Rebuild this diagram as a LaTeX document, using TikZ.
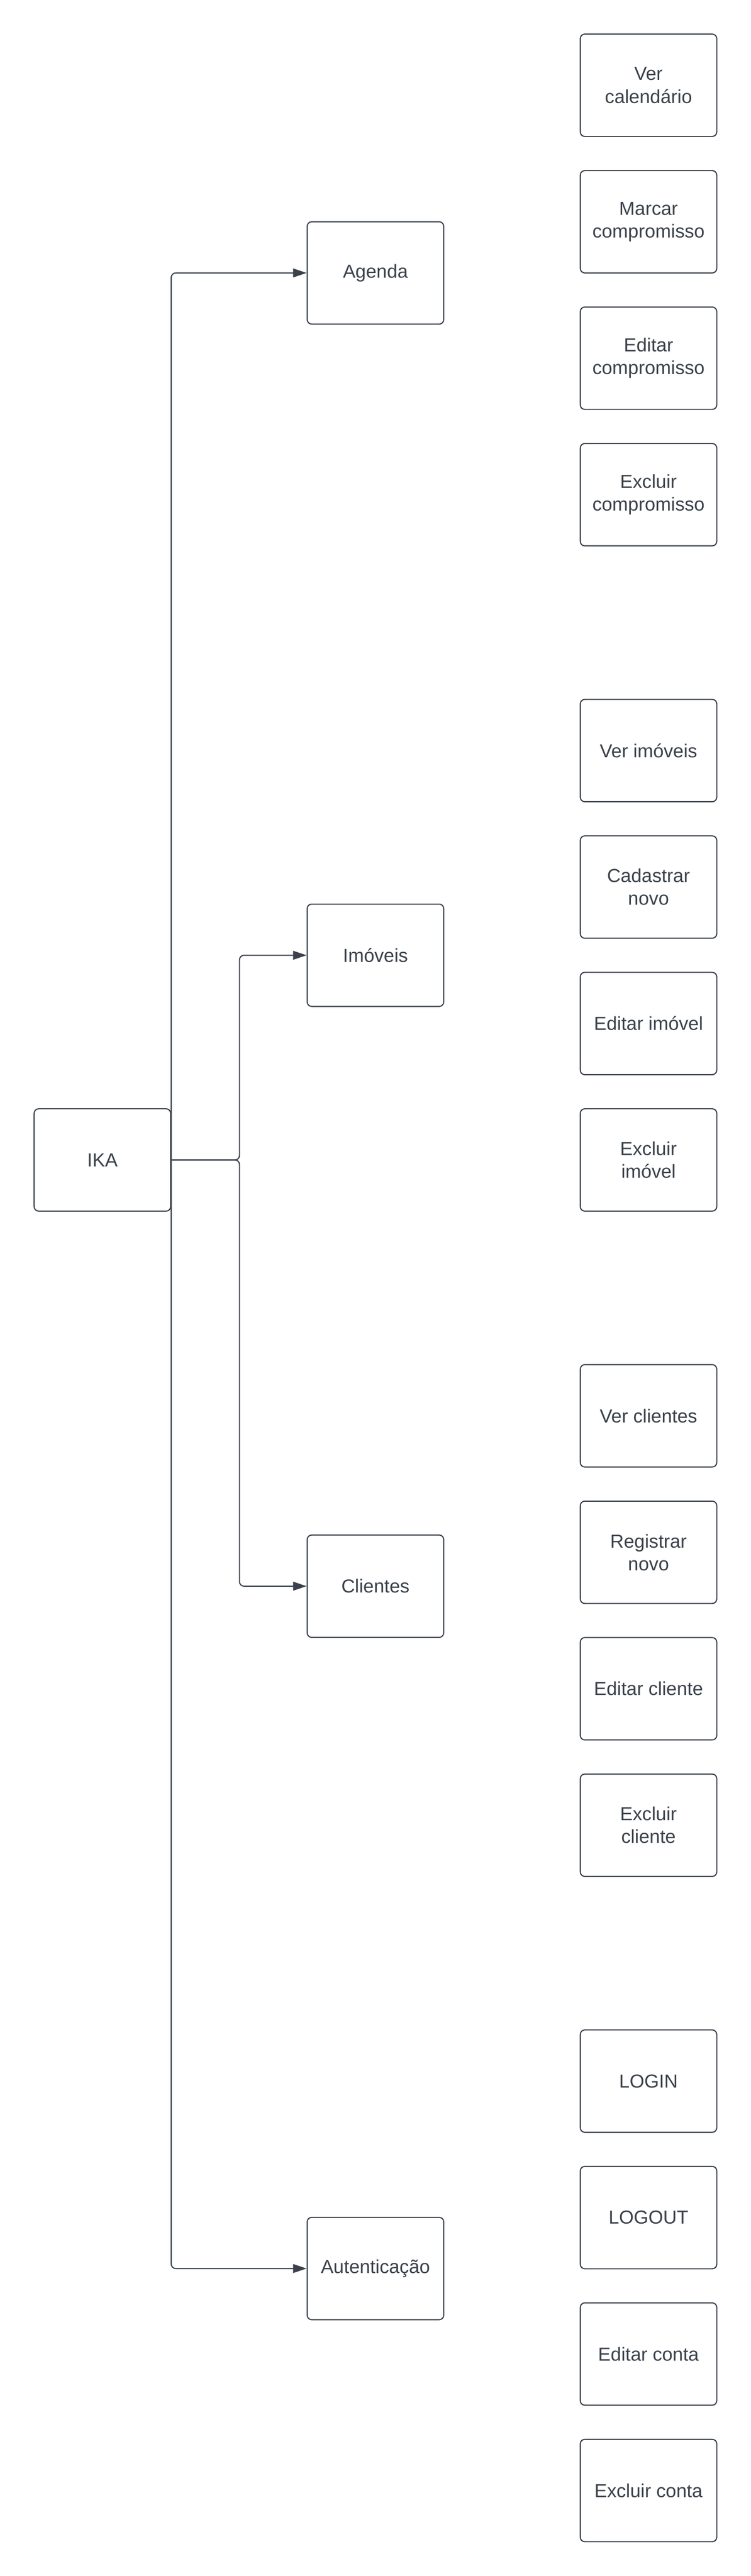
\documentclass[tikz,border=0pt]{standalone}
\usepackage{fontspec}
\setmainfont{Liberation Sans}
\usepackage{tikz}
\usetikzlibrary{positioning,arrows.meta}
\definecolor{linegray}{HTML}{3A414A}

\begin{document}
\begin{tikzpicture}[
            node distance = 3cm,
            op/.style={rectangle,rounded corners=0.1cm,draw=linegray,line width=0.7pt,
                minimum width=3cm,minimum height=2.25cm,inner sep=0pt,align=center,
                text=linegray,font=\fontsize{11.8}{14.2}\selectfont},
            conn/.style={draw=linegray,line width=0.7pt,rounded corners=0.1cm,
                -{Triangle[length=8.5pt,width=5.5pt]}}]
            \useasboundingbox (0,0) rectangle (16.5,-56.63);
            \node[op](ika) at (2.25,-25.5){IKA};
            \node[op](agenda) at (8.25,-6){Agenda};
            \node[op](imoveis) at (8.25,-21){Imóveis};
            \node[op](clientes) at (8.25,-34.87){Clientes};
            \node[op](aut) at (8.25,-49.87){Autenticação};
            
            \node[op](vercal) at (14.25,-1.875){Ver\\calendário};
            \node[op,below of=vercal](marcar){Marcar\\compromisso};
            \node[op,below of=marcar](editcomp){Editar\\compromisso};
            \node[op,below of=editcomp](exclcomp){Excluir\\compromisso};
            
            \node[op](verim) at (14.25,-16.5){Ver imóveis};
            \node[op,below of=verim](cadastrar){Cadastrar\\novo};
            \node[op,below of=cadastrar](editim){Editar imóvel};
            \node[op,below of=editim](exclim){Excluir\\imóvel};
            
            \node[op](vercli) at (14.25,-31.125){Ver clientes};
            \node[op,below of=vercli](registrar){Registrar\\novo};
            \node[op,below of=registrar](editcli){Editar cliente};
            \node[op,below of=editcli](exclcli){Excluir\\cliente};
            
            \node[op](login) at (14.25,-45.75){LOGIN};
            \node[op,below of=login](logout){LOGOUT};
            \node[op,below of=logout](editconta){Editar conta};
            \node[op,below of=editconta](exclconta){Excluir conta};
            
            \coordinate[right=1.5cm of ika.east](split);
            \draw[conn] (ika.east) |- (agenda);
            \draw[conn] (ika.east) |- (aut);
            \draw[conn] (ika.east) -- (split) |- (imoveis);
            \draw[conn] (ika.east) -- (split) |- (clientes);
            \end{tikzpicture}
\end{document}
